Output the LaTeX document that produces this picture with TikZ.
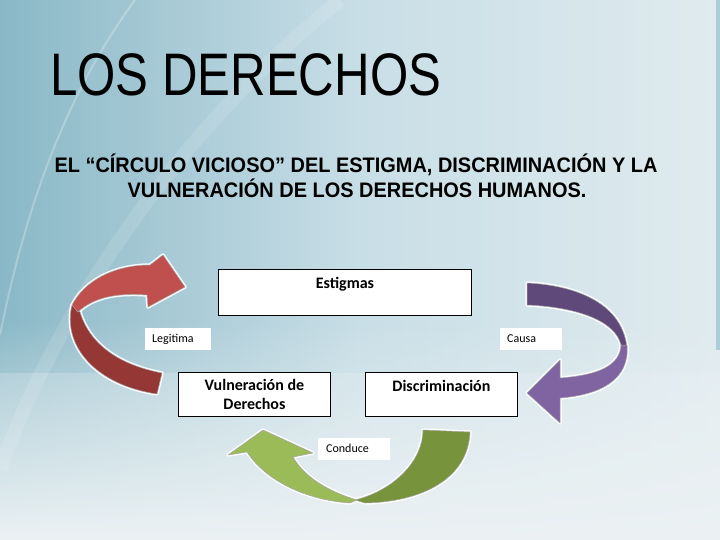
\documentclass[tikz,border=0pt]{standalone}
\usepackage{fontspec}
\setmainfont{Liberation Sans}
\newfontfamily\calfont{Carlito}
\usetikzlibrary{fadings}

\definecolor{bgteal}{RGB}{138,184,199}
\definecolor{bgmid}{RGB}{200,222,230}
\definecolor{bgright}{RGB}{224,235,239}
\definecolor{bglow}{RGB}{236,242,244}
\definecolor{redup}{RGB}{192,80,77}
\definecolor{reddown}{RGB}{149,55,53}
\definecolor{purpup}{RGB}{95,73,122}
\definecolor{purpdown}{RGB}{128,100,162}
\definecolor{greenleft}{RGB}{155,187,89}
\definecolor{greenright}{RGB}{119,147,60}

\tikzset{
  box/.style={draw=black, fill=white, line width=0.9pt, inner sep=3pt, align=center,
    font=\calfont\bfseries\fontsize{16}{19}\selectfont},
  tag/.style={fill=white, anchor=north west, inner xsep=7pt, inner ysep=0pt, align=left,
    minimum height=22pt, text height=9pt, text depth=3pt,
    font=\calfont\fontsize{12}{14}\selectfont},
  glow/.style={draw=white, line width=3.5pt, line join=round, opacity=0.9},
  edge/.style={draw=gray!70, line width=0.5pt, line join=round},
}

\begin{document}
\begin{tikzpicture}[x=1pt, y=-1pt]

  % fondo
  \useasboundingbox (0,0) rectangle (720,540);
  \shade[left color=bgteal, right color=bgright, middle color=bgmid] (0,0) rectangle (720,540);
  \fill[bglow, path fading=north] (0,320) rectangle (720,540);
  \fill[bglow, opacity=0.25] (0,373) rectangle (720,540);
  \draw[white, opacity=0.25, line width=2pt] (0,335) .. controls (25,210) and (65,95) .. (135,0);
  \draw[white, opacity=0.12, line width=14pt] (0,470) .. controls (60,300) and (190,120) .. (340,0);
  \fill[bgteal!60!bgright] (716,0) rectangle (720,350);

  % titulos
  \node[anchor=base west, inner sep=0pt] (title) at (50,96)
    {\scalebox{0.82}[1]{\fontsize{60}{72}\selectfont LOS DERECHOS}};
  \node[anchor=base, inner sep=0pt] (sub1) at (356,173)
    {\scalebox{0.95}[1]{\bfseries\fontsize{21}{25}\selectfont EL “CÍRCULO VICIOSO” DEL ESTIGMA, DISCRIMINACIÓN Y LA}};
  \node[anchor=base, inner sep=0pt] (sub2) at (357,198)
    {\scalebox{0.95}[1]{\bfseries\fontsize{21}{25}\selectfont VULNERACIÓN DE LOS DERECHOS HUMANOS.}};

  % flecha roja (Legitima)
  \path[glow, fill=white] (72,305) .. controls (62,345) and (95,385) .. (157,394)
    -- (162,373) .. controls (120,365) and (90,345) .. (80,312) -- cycle;
  \path[glow, fill=white] (78,312) .. controls (95,296) and (120,293) .. (147,295)
    -- (148,307) -- (185,287) -- (163,255) -- (150,265)
    .. controls (115,265) and (85,280) .. (72,305) -- cycle;
  \filldraw[edge, fill=reddown] (72,305) .. controls (62,345) and (95,385) .. (157,394)
    -- (162,373) .. controls (120,365) and (90,345) .. (80,312) -- cycle;
  \filldraw[edge, fill=redup] (78,312) .. controls (95,296) and (120,293) .. (147,295)
    -- (148,307) -- (185,287) -- (163,255) -- (150,265)
    .. controls (115,265) and (85,280) .. (72,305) -- cycle;

  % flecha morada (Causa)
  \path[glow, fill=white] (527,283) .. controls (570,285) and (622,300) .. (627,348)
    -- (621,345) .. controls (615,320) and (575,307) .. (527,305) -- cycle;
  \path[glow, fill=white] (627,345) .. controls (630,380) and (600,395) .. (560,398)
    -- (560,423) -- (527,393) -- (560,360) -- (560,378)
    .. controls (600,375) and (620,365) .. (621,345) -- cycle;
  \filldraw[edge, fill=purpup] (527,283) .. controls (570,285) and (622,300) .. (627,348)
    -- (621,345) .. controls (615,320) and (575,307) .. (527,305) -- cycle;
  \filldraw[edge, fill=purpdown] (627,345) .. controls (630,380) and (600,395) .. (560,398)
    -- (560,423) -- (527,393) -- (560,360) -- (560,378)
    .. controls (600,375) and (620,365) .. (621,345) -- cycle;

  % flecha verde (Conduce)
  \path[glow, fill=white] (423,430) -- (470,432)
    .. controls (468,480) and (420,502) .. (365,503)
    -- (355,500) .. controls (395,490) and (423,460) .. (423,430) -- cycle;
  \path[glow, fill=white] (357,500) .. controls (330,492) and (305,478) .. (293,457)
    -- (313,453) -- (263,430) -- (228,455) -- (247,452)
    .. controls (265,480) and (305,500) .. (350,503) -- cycle;
  \filldraw[edge, fill=greenright] (423,430) -- (470,432)
    .. controls (468,480) and (420,502) .. (365,503)
    -- (355,500) .. controls (395,490) and (423,460) .. (423,430) -- cycle;
  \filldraw[edge, fill=greenleft] (357,500) .. controls (330,492) and (305,478) .. (293,457)
    -- (313,453) -- (263,430) -- (228,455) -- (247,452)
    .. controls (265,480) and (305,500) .. (350,503) -- cycle;

  % cajas
  \node[box, anchor=north west, minimum width=253pt, text height=16pt, text depth=24pt]
    (estigmas) at (218,269) {Estigmas};
  \node[box, anchor=north west, minimum width=152pt, minimum height=44pt]
    (vulneracion) at (178,372) {Vulneración de\\Derechos};
  \node[box, anchor=north west, minimum width=152pt, text height=16pt, text depth=22pt]
    (discriminacion) at (365,372) {Discriminación};

  % etiquetas
  \node[tag, text width=52pt] (legitima) at (145,328) {Legitima};
  \node[tag, text width=48pt] (causa) at (500,328) {Causa};
  \node[tag, inner xsep=8pt, text width=56pt] (conduce) at (318,438) {Conduce};

\end{tikzpicture}
\end{document}
